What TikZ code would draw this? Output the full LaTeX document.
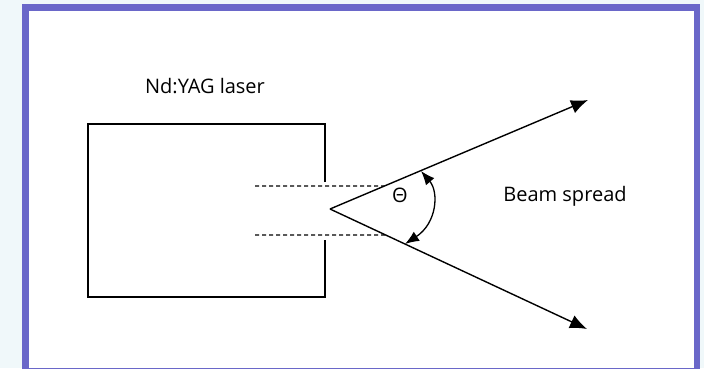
\documentclass[tikz,border=0pt]{standalone}
\usepackage{fontspec}
\setmainfont{Open Sans}
\usetikzlibrary{arrows.meta,intersections}
\definecolor{bgcol}{HTML}{F0F8FA}
\definecolor{framecol}{HTML}{6A67C9}
\tikzset{
  lbl/.style={font=\fontsize{20}{24}\selectfont, inner sep=0pt, anchor=base},
  solidline/.style={line width=1.4pt, black},
  dashline/.style={line width=1.1pt, black, dash pattern=on 4pt off 3pt},
  beam/.style={line width=1.4pt, black, -{Latex[length=17pt,width=14pt]}},
  anglearr/.style={line width=1.3pt, black, {Latex[length=14pt,width=11pt]}-{Latex[length=14pt,width=11pt]}}
}
\begin{document}
\begin{tikzpicture}[x=1pt,y=-1pt]
  \useasboundingbox (0,0) rectangle (704,368);
  \fill[bgcol] (0,0) rectangle (704,368);
  \fill[framecol] (22,4) rectangle (700,372);
  \fill[white] (29,11) rectangle (694,368);

  % laser box with aperture gap
  \coordinate (gtop) at (325,182);
  \coordinate (gbot) at (325,240);
  \draw[solidline] (gtop) -- (325,124) -- (88,124) -- (88,297) -- (325,297) -- (gbot);

  % beam
  \coordinate (apex) at (330,209);
  \coordinate (ub) at (588,100);
  \coordinate (lb) at (587,329);
  \draw[beam, name path=upper] (apex) -- (ub);
  \draw[beam, name path=lower] (apex) -- (lb);

  % dashed beam width lines
  \path[name path=dup] (255,186) -- (450,186);
  \path[name path=dlo] (255,235) -- (450,235);
  \path[name intersections={of=upper and dup, by=iu}];
  \path[name intersections={of=lower and dlo, by=il}];
  \coordinate (du) at (255,186);
  \coordinate (dl) at (255,235);
  \draw[dashline] (du) -- (iu);
  \draw[dashline] (dl) -- (il);

  % angle arc
  \coordinate (au) at (421,171);
  \coordinate (al) at (405,244);
  \draw[anglearr] (au) .. controls (439,192) and (437,223) .. (al);

  \node[lbl] (theta) at (400,202) {Θ};
  \node[lbl] (laser) at (205,93) {Nd:YAG laser};
  \node[lbl] (spread) at (565,201) {Beam spread};
\end{tikzpicture}
\end{document}
